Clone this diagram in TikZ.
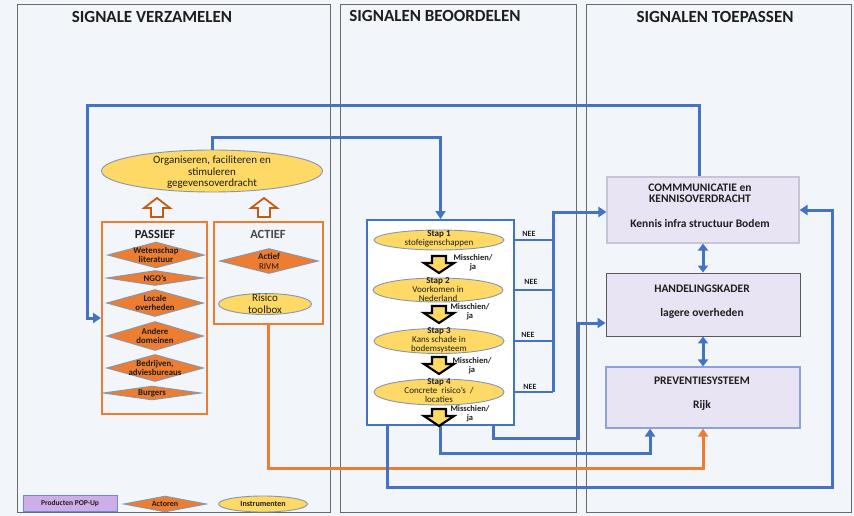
\documentclass[tikz,border=0pt]{standalone}
\usepackage{fontspec}
\setmainfont{Carlito}
\usetikzlibrary{shapes.geometric,arrows.meta}
\definecolor{bg}{HTML}{F2F5FA}
\definecolor{colline}{HTML}{6A6A6A}
\definecolor{blu}{HTML}{4472C4}
\definecolor{orgl}{HTML}{ED7D31}
\definecolor{orgd}{HTML}{C55A11}
\definecolor{yel}{HTML}{FFD966}
\definecolor{ellb}{HTML}{8497B0}
\definecolor{lav}{HTML}{E8E4F4}
\definecolor{lavb}{HTML}{C8C4D8}
\definecolor{popf}{HTML}{CDAEE8}
\definecolor{popb}{HTML}{6F8BD0}
\definecolor{txt}{HTML}{1E1E1E}
\newcommand\fs[2]{\fontsize{#1}{#2}\selectfont}
\tikzset{
  colbox/.style={draw=colline, line width=1pt, fill=bg},
  coltitle/.style={font=\fs{17}{19}\bfseries, text=txt, inner sep=0pt},
  orgbox/.style={draw=orgl, line width=2pt, fill=bg, inner sep=0pt},
  yell/.style={ellipse, draw=ellb, line width=0.9pt, fill=yel, inner sep=0pt},
  dia/.style={diamond, draw=ellb, line width=0.9pt, fill=orgl, inner sep=0pt},
  lavbox/.style={draw=lavb, line width=1.1pt, fill=lav, inner sep=0pt},
  lbl/.style={inner sep=0pt, align=center, text=txt},
  diatext/.style={lbl, font=\fs{8.8}{9.5}\bfseries},
  staptext/.style={lbl, font=\fs{9}{9}},
  mjtext/.style={lbl, font=\fs{8.5}{9}\bfseries},
  neetext/.style={lbl, font=\fs{8}{9}\bfseries},
  rbtext/.style={lbl, font=\fs{11.5}{11}\bfseries},
  bl/.style={draw=blu, line width=3pt, line join=miter},
  blthin/.style={draw=blu, line width=2pt},
  orl/.style={draw=orgl, line width=3pt, line join=miter},
  tip/.style={-{Triangle[length=8pt,width=10pt]}},
  dtip/.style={{Triangle[length=7pt,width=10pt]}-{Triangle[length=7pt,width=10pt]}},
  hollowup/.pic={\draw[draw=orgd, line width=1.8pt, fill=bg, line join=miter]
     (-6,0) -- (-6,-9) -- (-13,-9) -- (0,-19) -- (13,-9) -- (6,-9) -- (6,0) -- cycle;},
  ydown/.pic={\draw[draw=black, line width=2.2pt, fill=yel, line join=miter]
     (-7,0) -- (7,0) -- (7,7) -- (15,7) -- (0,17) -- (-15,7) -- (-7,7) -- cycle;}
}
\begin{document}
\begin{tikzpicture}[x=1pt,y=-1pt]
\fill[bg] (0,0) rectangle (854,516);
\useasboundingbox (0,0) rectangle (854,516);
% columns
\draw[colbox] (17,5) rectangle (330,512);
\draw[colbox] (340,5) rectangle (576,512);
\draw[colbox] (586,5) rectangle (851,512);
\node[coltitle] (t1) at (152,17) {SIGNALE VERZAMELEN};
\node[coltitle] (t2) at (435,16) {SIGNALEN BEOORDELEN};
\node[coltitle] (t3) at (715,17) {SIGNALEN TOEPASSEN};

% left column
\node[yell, minimum width=221pt, minimum height=42pt] (org) at (212,171) {};
\node[lbl, font=\fs{11}{11.5}] (orgt) at (212,172.5) {Organiseren, faciliteren en\\stimuleren\\gegevensoverdracht};
\pic at (157,217) {hollowup};
\pic at (264,217) {hollowup};

\node[orgbox, minimum width=105pt, minimum height=192pt] (passief) at (154.5,318) {};
\node[orgbox, minimum width=109pt, minimum height=102pt] (actief) at (268.5,273) {};
\node[lbl, font=\fs{12.5}{14}\bfseries] (tpas) at (155,234) {PASSIEF};
\node[lbl, font=\fs{12.5}{14}\bfseries, text=black!72] (tact) at (268,234) {ACTIEF};

\node[dia, minimum width=97pt, minimum height=26pt] (d1) at (156,255) {};
\node[diatext] at (d1) {Wetenschap\\literatuur};
\node[dia, minimum width=97pt, minimum height=15pt] (d2) at (155,278) {};
\node[diatext] at (d2) {NGO's};
\node[dia, minimum width=97pt, minimum height=27pt] (d3) at (155,303) {};
\node[diatext] at (d3) {Locale\\overheden};
\node[dia, minimum width=97pt, minimum height=29pt] (d4) at (155,336) {};
\node[diatext] at (d4) {Andere\\domeinen};
\node[dia, minimum width=97pt, minimum height=27pt] (d5) at (155,368) {};
\node[diatext] at (d5) {Bedrijven,\\adviesbureaus};
\node[dia, minimum width=98pt, minimum height=14pt] (d6) at (152,393) {};
\node[diatext] at (d6) {Burgers};

\node[dia, minimum width=99pt, minimum height=25pt] (rivm) at (269,261) {};
\node[lbl, font=\fs{9}{10}] at (rivm) {\textbf{Actief}\\RIVM};
\node[yell, minimum width=93pt, minimum height=21pt] (tool) at (265,304) {};
\node[lbl, font=\fs{11}{12.5}] at (tool) {Risico\\toolbox};

% middle column
\node[draw=blu, line width=2pt, fill=white, minimum width=147pt, minimum height=205pt, inner sep=0pt] (stap) at (440.5,322.5) {};
\node[yell, minimum width=130pt, minimum height=20pt] (s1) at (439,240) {};
\node[staptext] at (439,239) {\textbf{Stap 1}\\stofeigenschappen};
\node[yell, minimum width=130pt, minimum height=24pt] (s2) at (438,290) {};
\node[staptext] at (438,290) {\textbf{Stap 2}\\Voorkomen in\\Nederland};
\node[yell, minimum width=130pt, minimum height=25pt] (s3) at (439,341) {};
\node[staptext] at (439,340) {\textbf{Stap 3}\\Kans schade in\\bodemsysteem};
\node[yell, minimum width=130pt, minimum height=26pt] (s4) at (439,392) {};
\node[staptext] at (439,391) {\textbf{Stap 4}\\Concrete\ \ risico's\ \ /\\locaties};

\node[mjtext] (m1) at (473,263) {Misschien/\\ja};
\node[mjtext] (m2) at (470,312) {Misschien/\\ja};
\node[mjtext] (m3) at (472,366) {Misschien/\\ja};
\node[mjtext] (m4) at (470,414) {Misschien/\\ja};

% right column
\node[lavbox, minimum width=192pt, minimum height=66pt] (comm) at (703,210) {};
\node[rbtext] (ct) at (700,193.5) {COMMMUNICATIE en\\KENNISOVERDRACHT};
\node[rbtext] (ct2) at (700,224) {Kennis infra structuur Bodem};
\node[lavbox, draw=black!65, line width=0.9pt, minimum width=194pt, minimum height=63pt] (hand) at (703,304.5) {};
\node[rbtext] (ht) at (702,289) {HANDELINGSKADER};
\node[rbtext] (ht2) at (702,313) {lagere overheden};
\node[lavbox, draw=popb!80, minimum width=194pt, minimum height=61pt] (prev) at (703,397.5) {};
\node[rbtext] (pt) at (702,381) {PREVENTIESYSTEEM};
\node[rbtext] (pt2) at (702,405) {Rijk};

% connectors
\coordinate (tA) at (699,106);
\coordinate (tB) at (87,106);
\draw[bl,tip] ([xshift=-4pt]comm.north) -- (tA) -- (tB) |- (passief.west);

\coordinate (uA) at (440.5,138);
\draw[bl,tip] (org.north) |- (uA) -- (stap.north);

\coordinate (bus) at (553,212);
\foreach \s in {s1,s2,s3,s4} \draw[blthin] (stap.east |- \s) -- (bus |- \s);
\draw[bl,tip] (bus |- s4) -- (bus) -- (comm.west |- bus);
\node[neetext] (n1) at (529,234) {NEE};
\node[neetext] (n2) at (531,282) {NEE};
\node[neetext] (n3) at (528,335) {NEE};
\node[neetext] (n4) at (530,387) {NEE};

\coordinate (cA) at (493,438);
\coordinate (cB) at (578,323);
\draw[bl,tip] ([xshift=52.5pt]stap.south) -- (cA) -| (cB) -- ([yshift=-18.5pt]hand.west);

\coordinate (eA) at (440.5,453);
\draw[bl,tip] (stap.south) -- (eA) -| ([xshift=-53pt]prev.south);

\coordinate (oA) at (268.5,468);
\draw[orl,tip] (actief.south) -- (oA) -| (prev.south);

\coordinate (dA) at (387,487);
\coordinate (dB) at (832,210);
\draw[bl,tip] ([xshift=-53.5pt]stap.south) -- (dA) -| (dB) -- (comm.east);

\draw[bl,dtip] (comm.south) -- (hand.north);
\draw[bl,dtip] (hand.south) -- (prev.north);

\pic at (439,256) {ydown};
\pic at (439,306) {ydown};
\pic at (439,357) {ydown};
\pic at (439,409) {ydown};

% legend
\node[draw=popb, line width=1pt, fill=popf, minimum width=94pt, minimum height=16pt, inner sep=0pt, font=\fs{7.5}{8}\bfseries, text=txt] (lg1) at (70,503) {Producten POP-Up};
\node[dia, minimum width=83pt, minimum height=16pt] (lg2) at (165,504) {};
\node[lbl, font=\fs{8}{9}\bfseries] at (lg2) {Actoren};
\node[yell, minimum width=89pt, minimum height=16pt] (lg3) at (263,504) {};
\node[lbl, font=\fs{8}{9}\bfseries] at (lg3) {Instrumenten};
\end{tikzpicture}
\end{document}
